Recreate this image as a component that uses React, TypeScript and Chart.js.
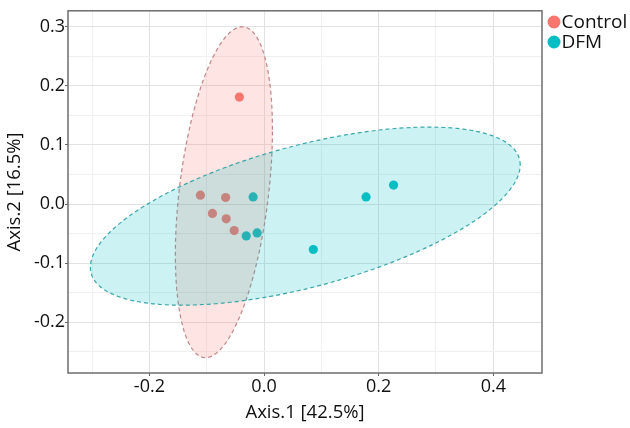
import React, { useEffect, useRef } from "react";
import { Chart, registerables } from "chart.js";

Chart.register(...registerables);

// ---- data ----
const groupNames = ["Control", "DFM"];
const groupColors = ["#F8766D", "#00BFC4"];
const groupFills = ["rgba(248,118,109,0.2)", "rgba(0,191,196,0.2)"];
const groupOutlines = ["#C08688", "#3AA6A9"];

const controlX = [-0.043, -0.111, -0.067, -0.090, -0.066, -0.052];
const controlY = [0.181, 0.015, 0.011, -0.016, -0.025, -0.045];
const dfmX = [-0.019, -0.031, -0.012, 0.086, 0.178, 0.226];
const dfmY = [0.012, -0.054, -0.049, -0.077, 0.012, 0.032];

// ellipse parameters per group (data units): x = cx + hw*cos t, y = cy + hh*cos(t - phase)
const ellipseCenterX = [-0.070, 0.072];
const ellipseCenterY = [0.020, -0.0205];
const ellipseHalfWidth = [0.0847, 0.375];
const ellipseHalfHeight = [0.28, 0.1507];
const ellipsePhaseDeg = [67.8, 55];

const xMin = -0.342;
const xMax = 0.485;
const yMin = -0.286;
const yMax = 0.327;

const xTitle = "Axis.1 [42.5%]";
const yTitle = "Axis.2 [16.5%]";

const FONT = "'Open Sans', 'Noto Sans', sans-serif";
const TEXT = "#111111";

const isMajorX = (v: number) => Math.round(v * 10) % 2 === 0;
const isMajorY = (v: number) => Math.round(v * 20) % 2 === 0;
const fmt = (v: number) => {
  const r = Math.round(v * 10) / 10;
  return (Math.abs(r) < 1e-9 ? 0 : r).toFixed(1);
};

const ellipsePlugin = {
  id: "ellipses",
  afterDatasetsDraw(chart: any) {
    const { ctx, chartArea, scales } = chart;
    const xs = scales.x;
    const ys = scales.y;
    ctx.save();
    ctx.beginPath();
    ctx.rect(chartArea.left, chartArea.top, chartArea.right - chartArea.left, chartArea.bottom - chartArea.top);
    ctx.clip();
    for (let g = 0; g < groupNames.length; g++) {
      const ph = (ellipsePhaseDeg[g] * Math.PI) / 180;
      ctx.beginPath();
      const n = 160;
      for (let i = 0; i <= n; i++) {
        const t = (i / n) * Math.PI * 2;
        const dx = ellipseCenterX[g] + ellipseHalfWidth[g] * Math.cos(t);
        const dy = ellipseCenterY[g] + ellipseHalfHeight[g] * Math.cos(t - ph);
        const px = xs.getPixelForValue(dx);
        const py = ys.getPixelForValue(dy);
        if (i === 0) ctx.moveTo(px, py);
        else ctx.lineTo(px, py);
      }
      ctx.closePath();
      ctx.fillStyle = groupFills[g];
      ctx.fill();
      ctx.setLineDash([4, 3]);
      ctx.lineWidth = 1.2;
      ctx.strokeStyle = groupOutlines[g];
      ctx.stroke();
    }
    ctx.restore();
    // panel border
    ctx.save();
    ctx.setLineDash([]);
    ctx.strokeStyle = "#6e6e6e";
    ctx.lineWidth = 1.5;
    ctx.strokeRect(chartArea.left, chartArea.top, chartArea.right - chartArea.left, chartArea.bottom - chartArea.top);
    ctx.restore();
  },
};

const legendPlugin = {
  id: "customLegend",
  afterDraw(chart: any) {
    const { ctx, chartArea } = chart;
    ctx.save();
    const cx = chartArea.right + 12;
    for (let g = 0; g < groupNames.length; g++) {
      const cy = 22 + g * 20;
      ctx.beginPath();
      ctx.arc(cx, cy, 6.5, 0, Math.PI * 2);
      ctx.fillStyle = groupColors[g];
      ctx.fill();
      ctx.fillStyle = TEXT;
      ctx.font = `19px ${FONT}`;
      ctx.textBaseline = "middle";
      ctx.textAlign = "left";
      ctx.fillText(groupNames[g], cx + 7.5, cy + 1);
    }
    ctx.restore();
  },
};

export default function App() {
  const ref = useRef<HTMLCanvasElement | null>(null);
  useEffect(() => {
    if (!ref.current) return;
    const seriesX = [controlX, dfmX];
    const seriesY = [controlY, dfmY];
    const chart = new Chart(ref.current, {
      type: "scatter",
      data: {
        datasets: groupNames.map((name, g) => ({
          label: name,
          data: seriesX[g].map((x, i) => ({ x, y: seriesY[g][i] })),
          backgroundColor: groupColors[g],
          borderWidth: 0,
          pointRadius: 4.6,
          pointHoverRadius: 4.6,
        })),
      },
      options: {
        animation: false,
        responsive: false,
        devicePixelRatio: 1,
        layout: { padding: { top: 8, right: 88, bottom: 0, left: 0 } },
        plugins: { legend: { display: false }, tooltip: { enabled: false } },
        scales: {
          x: {
            type: "linear",
            min: xMin,
            max: xMax,
            afterFit: (s: any) => {
              s.height = 55;
            },
            border: { display: false },
            ticks: {
              stepSize: 0.1,
              includeBounds: false,
              autoSkip: false,
              maxRotation: 0,
              padding: 0,
              color: TEXT,
              font: { family: FONT, size: 18 },
              callback: (v: any) => (isMajorX(Number(v)) ? fmt(Number(v)) : ""),
            },
            grid: {
              color: (c: any) => (c.tick && isMajorX(c.tick.value) ? "#e2e2e2" : "#f0f0f0"),
              lineWidth: 1,
              tickLength: 3,
              tickColor: (c: any) => (c.tick && isMajorX(c.tick.value) ? "#666" : "rgba(0,0,0,0)"),
            },
            title: {
              display: true,
              text: xTitle,
              color: TEXT,
              font: { family: FONT, size: 18.5 },
              padding: { top: 0, bottom: 4 },
            },
          },
          y: {
            type: "linear",
            min: yMin,
            max: yMax,
            afterFit: (s: any) => {
              s.width = 68;
            },
            border: { display: false },
            ticks: {
              stepSize: 0.05,
              includeBounds: false,
              autoSkip: false,
              padding: 0,
              color: TEXT,
              font: { family: FONT, size: 18 },
              callback: (v: any) => (isMajorY(Number(v)) ? fmt(Number(v)) : ""),
            },
            grid: {
              color: (c: any) => (c.tick && isMajorY(c.tick.value) ? "#e2e2e2" : "#f0f0f0"),
              lineWidth: 1,
              tickLength: 3,
              tickColor: (c: any) => (c.tick && isMajorY(c.tick.value) ? "#666" : "rgba(0,0,0,0)"),
            },
            title: {
              display: true,
              text: yTitle,
              color: TEXT,
              font: { family: FONT, size: 18.5 },
              padding: { top: 4, bottom: 0 },
            },
          },
        },
      },
      plugins: [ellipsePlugin, legendPlugin],
    } as any);
    return () => chart.destroy();
  }, []);
  return (
    <div style={{ position: "absolute", left: 0, top: 0, width: 630, height: 428, background: "#fff" }}>
      <canvas ref={ref} width={630} height={428} />
    </div>
  );
}
